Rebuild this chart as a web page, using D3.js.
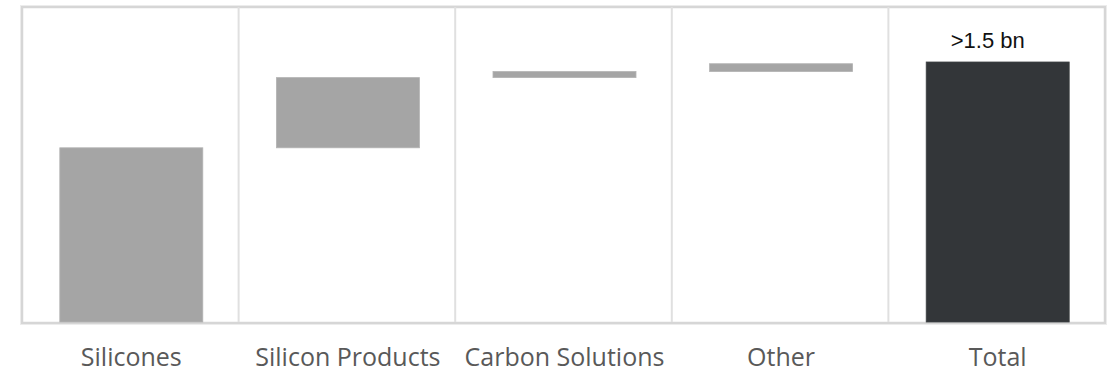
<!DOCTYPE html>
<html><head><meta charset="utf-8">
<script src="https://cdn.jsdelivr.net/npm/d3@7"></script>
<style>html,body{margin:0;padding:0;background:#fff;}svg{display:block;}</style>
</head><body>
<svg id="chart" width="1112" height="373"></svg>
<script>
const categories = ["Silicones", "Silicon Products", "Carbon Solutions", "Other", "Total"];
const increments = [1.005, 0.405, 0.035, 0.045];
const totalValue = 1.5;
const totalLabel = ">1.5 bn";

const svg = d3.select("#chart");
const fLeft = 22, fRight = 1105, fTop = 7, fBottom = 322;
const x = d3.scaleBand().domain(categories).range([fLeft, fRight]).padding(0);
const y = d3.scaleLinear().domain([0, totalValue]).range([fBottom, 62]);

// build waterfall rows
let cum = 0;
const rows = increments.map((v, i) => { const r = {cat: categories[i], y0: cum, y1: cum + v, total: false}; cum += v; return r; });
rows.push({cat: categories[4], y0: 0, y1: totalValue, total: true});

// frame
svg.append("rect").attr("x", fLeft).attr("y", fTop).attr("width", fRight - fLeft).attr("height", fBottom + 1 - fTop)
  .attr("fill", "none").attr("stroke", "#d6d6d6").attr("stroke-width", 2.5);
svg.append("rect").attr("x", fLeft - 1.5).attr("y", fTop - 1.5).attr("width", fRight - fLeft + 3).attr("height", fBottom + 4 - fTop)
  .attr("fill", "none").attr("stroke", "#ececec").attr("stroke-width", 1);

// dividers
svg.selectAll("line.div").data(categories.slice(1)).join("line").attr("class", "div")
  .attr("x1", d => x(d)).attr("x2", d => x(d)).attr("y1", fTop).attr("y2", fBottom)
  .attr("stroke", "#e0e0e0").attr("stroke-width", 2);

const bw = 143;
svg.selectAll("rect.bar").data(rows).join("rect").attr("class", "bar")
  .attr("x", d => x(d.cat) + (x.bandwidth() - bw) / 2 + 1)
  .attr("width", bw)
  .attr("y", d => y(d.y1))
  .attr("height", d => Math.max(1, y(d.y0) - y(d.y1)))
  .attr("fill", d => d.total ? "#333639" : "#a5a5a5")
  .attr("stroke", d => d.total ? "#3e4144" : "#b3b3b3")
  .attr("stroke-width", 0.8);

// total label
const tr = rows[rows.length - 1];
svg.append("text").attr("x", x(tr.cat) + x.bandwidth() / 2 - 9).attr("y", y(tr.y1) - 14)
  .attr("text-anchor", "middle").attr("font-family", "Liberation Sans, Arial, sans-serif")
  .attr("font-size", 22).attr("fill", "#111").text(totalLabel);

// category labels
svg.selectAll("text.cat").data(categories).join("text").attr("class", "cat")
  .attr("x", d => x(d) + x.bandwidth() / 2 + 1).attr("y", 366)
  .attr("text-anchor", "middle").attr("font-family", "Open Sans, Noto Sans, sans-serif")
  .attr("font-size", 25).attr("fill", "#595959").text(d => d);
</script>
</body></html>
